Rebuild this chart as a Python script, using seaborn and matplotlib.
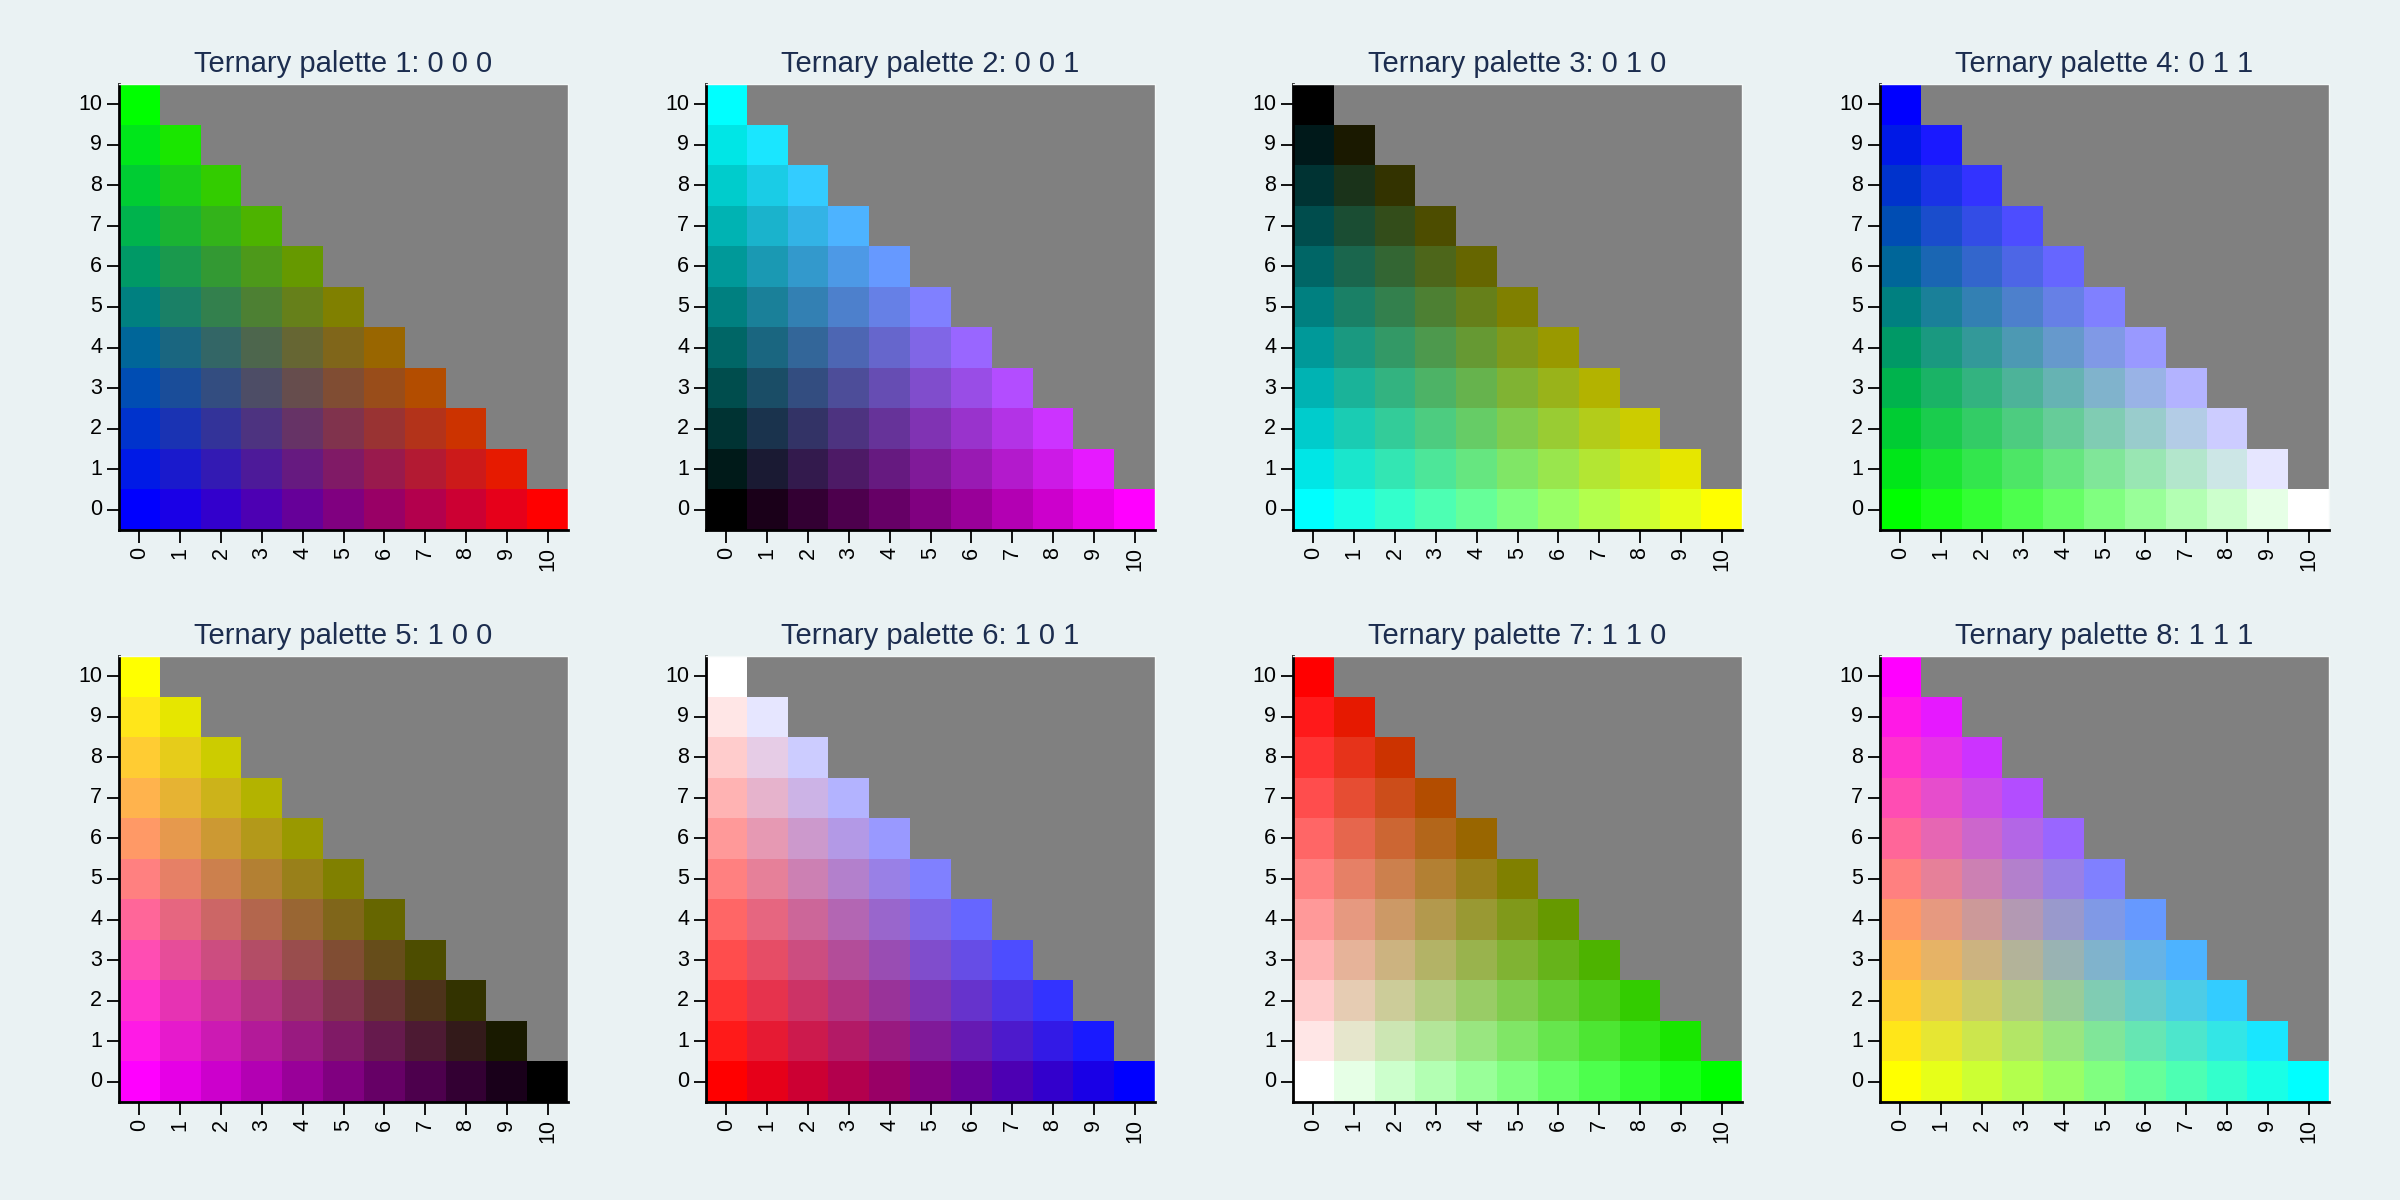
import numpy as np
import pandas as pd
import matplotlib
matplotlib.use('Agg')
import matplotlib.pyplot as plt
from matplotlib.colors import ListedColormap
import seaborn as sns

# palette definitions: invert flags for the R, G, B channels
palette_ids = [1, 2, 3, 4, 5, 6, 7, 8]
flag_r = [0, 0, 0, 0, 1, 1, 1, 1]
flag_g = [0, 0, 1, 1, 0, 0, 1, 1]
flag_b = [0, 1, 0, 1, 0, 1, 0, 1]
levels = list(range(11))  # 0..10 on both axes

sns.set_theme(style='white')
plt.rcParams['font.family'] = ['Liberation Sans', 'DejaVu Sans']

bg = '#EAF2F3'
fig = plt.figure(figsize=(24, 12), dpi=100, facecolor=bg)

lefts = [119, 706, 1293, 1880]
bottoms = [530, 1102]
w, h = 449, 446

n = len(levels) - 1
for p in range(8):
    row, col = divmod(p, 4)
    ax = fig.add_axes([lefts[col] / 2400, 1 - bottoms[row] / 1200, w / 2400, h / 1200])

    # build the cell grid: rows from y=10 (top) down to y=0
    colors = []
    vals = np.zeros((len(levels), len(levels)))
    mask = np.zeros_like(vals, dtype=bool)
    for r, y in enumerate(levels[::-1]):
        for c, x in enumerate(levels):
            vals[r, c] = len(colors)
            k = n - x - y
            rr = x / n if not flag_r[p] else 1 - x / n
            gg = y / n if not flag_g[p] else 1 - y / n
            bb = max(k, 0) / n if not flag_b[p] else 1 - max(k, 0) / n
            colors.append((rr, gg, bb))
            mask[r, c] = (x + y) > n
    df = pd.DataFrame(vals, index=levels[::-1], columns=levels)

    sns.heatmap(df, mask=mask, cmap=ListedColormap(colors), vmin=-0.5,
                vmax=len(colors) - 0.5, cbar=False, ax=ax, square=False)
    ax.set_facecolor('#808080')
    ax.set_title(f'Ternary palette {palette_ids[p]}: {flag_r[p]} {flag_g[p]} {flag_b[p]}',
                 fontsize=21, color='#1C2D4F', pad=9)
    ax.set_xticklabels(levels, rotation=90, fontsize=15.5, color='black')
    ax.set_yticklabels(levels[::-1], rotation=0, fontsize=15.5, color='black')
    ax.tick_params(axis='both', length=9, width=1.3, color='black', pad=3,
                   bottom=True, left=True)
    for s in ['left', 'bottom']:
        ax.spines[s].set_visible(True)
        ax.spines[s].set_color('black')
        ax.spines[s].set_linewidth(2)
    for s in ['top', 'right']:
        ax.spines[s].set_visible(True)
        ax.spines[s].set_color('#F4F8F8')
        ax.spines[s].set_linewidth(1)
    ax.set_xlabel('')
    ax.set_ylabel('')

plt.savefig('out.png', dpi=100, facecolor=bg)
